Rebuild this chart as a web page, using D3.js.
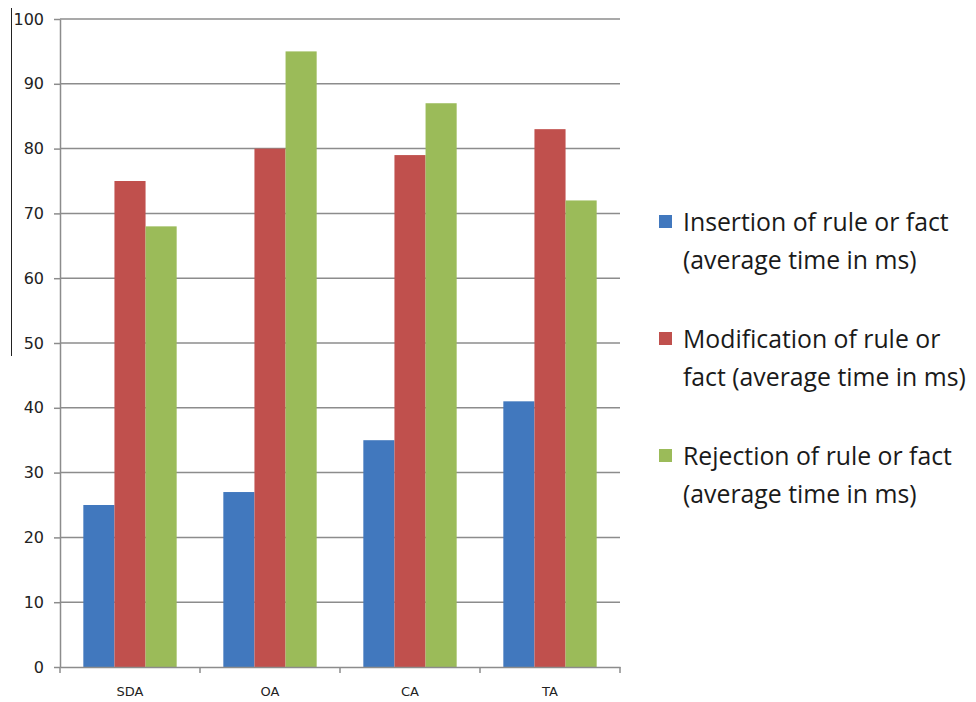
<!DOCTYPE html>
<html>
<head>
<meta charset="utf-8">
<script src="https://cdn.jsdelivr.net/npm/d3@7"></script>
<style>
  html, body { margin: 0; padding: 0; background: #fff; }
  svg { display: block; }
</style>
</head>
<body>
<svg id="chart" width="976" height="702"></svg>
<script>
// Average processing time per approach
const categories = ["SDA", "OA", "CA", "TA"];
const seriesNames = [
  ["Insertion of rule or fact", "(average time in ms)"],
  ["Modification of rule or", "fact (average time in ms)"],
  ["Rejection of rule or fact", "(average time in ms)"]
];
const insertion    = [25, 27, 35, 41];
const modification = [75, 80, 79, 83];
const rejection    = [68, 95, 87, 72];
const yTicks = [0, 10, 20, 30, 40, 50, 60, 70, 80, 90, 100];
const colors = ["#4178be", "#c0504d", "#9bbb59"];

const series = [insertion, modification, rejection];

const svg = d3.select("#chart");
const margin = { left: 60, right: 356, top: 19, bottom: 35 };
const W = 976, H = 702;

const x0 = d3.scaleBand()
  .domain(categories)
  .range([margin.left, W - margin.right])
  .paddingInner(0)
  .paddingOuter(0);

// three touching bars per group, with a 150% gap split on both sides
const x1 = d3.scaleBand()
  .domain(d3.range(series.length))
  .range([0, x0.bandwidth()])
  .paddingOuter(0.75)
  .paddingInner(0);

const y = d3.scaleLinear().domain([0, 100]).range([H - margin.bottom, margin.top]);

// stray vertical rule at the left edge
svg.append("line")
  .attr("x1", 11.5).attr("x2", 11.5)
  .attr("y1", 8).attr("y2", 356)
  .attr("stroke", "#222").attr("stroke-width", 1);

// horizontal gridlines
svg.append("g")
  .selectAll("line")
  .data(yTicks.filter(d => d > 0))
  .join("line")
  .attr("x1", margin.left).attr("x2", W - margin.right)
  .attr("y1", d => y(d)).attr("y2", d => y(d))
  .attr("stroke", "#8c8c8c").attr("stroke-width", 1.5);

// y axis
const yAxis = svg.append("g")
  .attr("transform", `translate(${margin.left},0)`)
  .call(d3.axisLeft(y).tickValues(yTicks).tickSize(6).tickPadding(10).tickSizeOuter(0));
yAxis.select(".domain").attr("stroke", "#8c8c8c").attr("stroke-width", 1.5);
yAxis.selectAll(".tick line").attr("stroke", "#8c8c8c").attr("stroke-width", 1.5);
yAxis.selectAll("text")
  .attr("font-family", "DejaVu Sans, Verdana, sans-serif")
  .attr("font-size", 16)
  .attr("fill", "#222");

// bars
const groups = svg.append("g")
  .selectAll("g")
  .data(categories)
  .join("g")
  .attr("transform", d => `translate(${x0(d)},0)`);

groups.selectAll("rect")
  .data((c, i) => series.map((s, k) => ({ k, v: s[i] })))
  .join("rect")
  .attr("x", d => x1(d.k))
  .attr("width", x1.bandwidth())
  .attr("y", d => y(d.v))
  .attr("height", d => y(0) - y(d.v))
  .attr("fill", d => colors[d.k]);

// x axis
const xAxis = svg.append("g")
  .attr("transform", `translate(0,${y(0)})`)
  .call(d3.axisBottom(x0).tickSize(0).tickPadding(20));
xAxis.select(".domain").attr("stroke", "#8c8c8c").attr("stroke-width", 1.5);
xAxis.selectAll("text")
  .attr("font-family", "DejaVu Sans, Verdana, sans-serif")
  .attr("font-size", 13)
  .attr("fill", "#222");

// category boundary ticks
const bounds = categories.map(c => x0(c)).concat([x0(categories[categories.length - 1]) + x0.bandwidth()]);
svg.append("g")
  .selectAll("line")
  .data(bounds)
  .join("line")
  .attr("x1", d => d).attr("x2", d => d)
  .attr("y1", y(0)).attr("y2", y(0) + 6)
  .attr("stroke", "#8c8c8c").attr("stroke-width", 1.5);

// legend
const legend = svg.append("g").attr("transform", "translate(659,0)");
const entryY = [222, 339, 456];
seriesNames.forEach((lines, k) => {
  const g = legend.append("g").attr("transform", `translate(0,${entryY[k]})`);
  g.append("rect")
    .attr("x", 0).attr("y", -7)
    .attr("width", 13).attr("height", 13)
    .attr("fill", colors[k]);
  lines.forEach((t, j) => {
    g.append("text")
      .attr("x", 24)
      .attr("y", j * 38)
      .attr("dy", "0.35em")
      .attr("font-family", "Open Sans, sans-serif")
      .attr("font-size", 24.8)
      .attr("fill", "#1a1a1a")
      .text(t);
  });
});
</script>
</body>
</html>
